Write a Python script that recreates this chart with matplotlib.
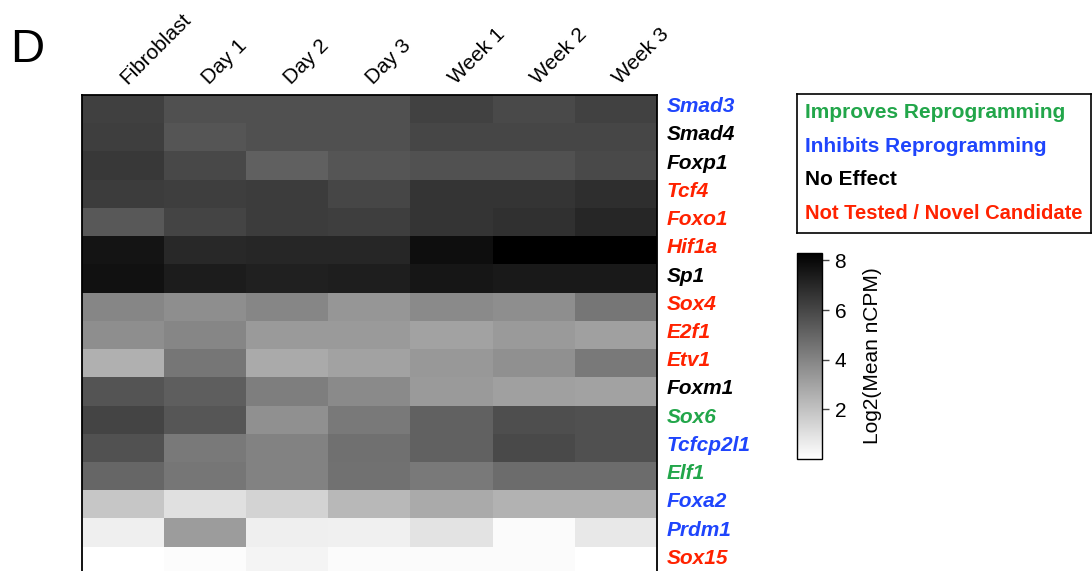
import numpy as np
import matplotlib
matplotlib.use("Agg")
import matplotlib.pyplot as plt
from matplotlib.transforms import ScaledTranslation, blended_transform_factory

plt.rcParams["font.family"] = ["Liberation Sans", "DejaVu Sans"]

# ── data ─────────────────────────────────────────────────────────────────────
stages = ["Fibroblast", "Day 1", "Day 2", "Day 3", "Week 1", "Week 2", "Week 3"]
genes = ["Smad3", "Smad4", "Foxp1", "Tcf4", "Foxo1", "Hif1a", "Sp1", "Sox4",
         "E2f1", "Etv1", "Foxm1", "Sox6", "Tcfcp2l1", "Elf1", "Foxa2", "Prdm1",
         "Sox15"]
effect = ["inhibit", "none", "none", "novel", "novel", "novel", "none", "novel",
          "novel", "novel", "none", "improve", "inhibit", "improve", "inhibit",
          "inhibit", "novel"]

# log2(mean nCPM)
smad3    = [6.22, 5.70, 5.70, 5.70, 6.15, 5.89, 6.15]
smad4    = [6.28, 5.53, 5.70, 5.70, 6.02, 6.02, 6.02]
foxp1    = [6.48, 5.96, 5.18, 5.53, 5.63, 5.63, 5.89]
tcf4     = [6.35, 6.28, 6.35, 6.02, 6.61, 6.61, 6.80]
foxo1    = [5.44, 6.09, 6.35, 6.28, 6.61, 6.74, 7.06]
hif1a    = [7.65, 7.00, 7.06, 7.06, 7.84, 8.30, 8.30]
sp1      = [7.71, 7.39, 7.26, 7.32, 7.58, 7.45, 7.45]
sox4     = [3.94, 3.68, 3.94, 3.42, 3.81, 3.68, 4.46]
e2f1     = [3.68, 3.94, 3.29, 3.29, 3.03, 3.29, 3.09]
etv1     = [2.57, 4.46, 2.77, 3.03, 3.35, 3.61, 4.33]
foxm1    = [5.57, 5.24, 4.20, 3.81, 3.29, 3.09, 3.03]
sox6     = [6.09, 5.50, 3.61, 4.33, 5.11, 5.76, 5.70]
tcfcp2l1 = [5.63, 4.33, 4.07, 4.65, 5.11, 5.89, 5.70]
elf1     = [4.98, 4.46, 4.07, 4.59, 4.33, 4.78, 4.78]
foxa2    = [1.86, 1.01, 1.40, 2.31, 2.77, 2.51, 2.51]
prdm1    = [0.55, 3.22, 0.55, 0.49, 0.94, 0.13, 0.75]
sox15    = [0.00, 0.10, 0.36, 0.16, 0.16, 0.16, 0.00]

rows = [smad3, smad4, foxp1, tcf4, foxo1, hif1a, sp1, sox4, e2f1, etv1,
        foxm1, sox6, tcfcp2l1, elf1, foxa2, prdm1, sox15]
values = np.array(rows)

COLORS = {"improve": "#22a64a", "inhibit": "#1f45fc",
          "none": "#000000", "novel": "#ff2200"}
legend_items = [("Improves Reprogramming", "improve"),
                ("Inhibits Reprogramming", "inhibit"),
                ("No Effect", "none"),
                ("Not Tested / Novel Candidate", "novel")]

W, H = 1092, 571
fig = plt.figure(figsize=(W / 100, H / 100), dpi=100)


def px(x0, y0, x1, y1):
    """pixel box (top-left origin) -> figure fraction rect"""
    return [x0 / W, 1 - y1 / H, (x1 - x0) / W, (y1 - y0) / H]


# ── heatmap ──────────────────────────────────────────────────────────────────
ax = fig.add_axes(px(82, 95, 657, 575))
im = ax.imshow(values, cmap="gray_r", vmin=0, vmax=8.3, aspect="auto",
               interpolation="nearest")
for side in ("left", "top", "right"):
    ax.spines[side].set_linewidth(1.3)
ax.spines["bottom"].set_visible(False)

ax.set_xticks(range(len(stages)))
ax.set_xticklabels(stages, rotation=45, ha="left", va="center",
                   rotation_mode="anchor", fontsize=15)
ax.tick_params(axis="x", top=True, bottom=False, labeltop=True,
               labelbottom=False, length=0, pad=10)
ax.set_yticks([])

# gene names, coloured by effect (sit a touch above the row centre)
lab_tr = blended_transform_factory(ax.transAxes, ax.transData) + \
    ScaledTranslation(0.10, 0.025, fig.dpi_scale_trans)
for i, (g, eff) in enumerate(zip(genes, effect)):
    ax.text(1.0, i, g, transform=lab_tr, ha="left", va="center",
            fontsize=15, fontweight="bold", fontstyle="italic",
            color=COLORS[eff])

# ── legend box ───────────────────────────────────────────────────────────────
lax = fig.add_axes(px(797, 94, 1091, 233))
lax.set_xticks([])
lax.set_yticks([])
for s in lax.spines.values():
    s.set_linewidth(1.2)
for i, (txt, eff) in enumerate(legend_items):
    fs = 15 if i < 3 else 14.5
    lax.text(8 / 294, 1 - (19 + i * 33.5) / 139, txt, transform=lax.transAxes,
             ha="left", va="center", fontsize=fs, fontweight="bold",
             color=COLORS[eff])

# ── colorbar ─────────────────────────────────────────────────────────────────
cax = fig.add_axes(px(797, 253, 822, 459))
cb = fig.colorbar(im, cax=cax, ticks=[2, 4, 6, 8])
cb.outline.set_linewidth(1.0)
cax.tick_params(labelsize=15, length=5, width=1, color="#444444", pad=4)
cb.set_label("Log2(Mean nCPM)", fontsize=15, labelpad=12)

# panel letter
fig.text(27 / W, 1 - 50 / H, "D", fontsize=34, ha="center", va="center")

fig.savefig("out.png", dpi=100)
